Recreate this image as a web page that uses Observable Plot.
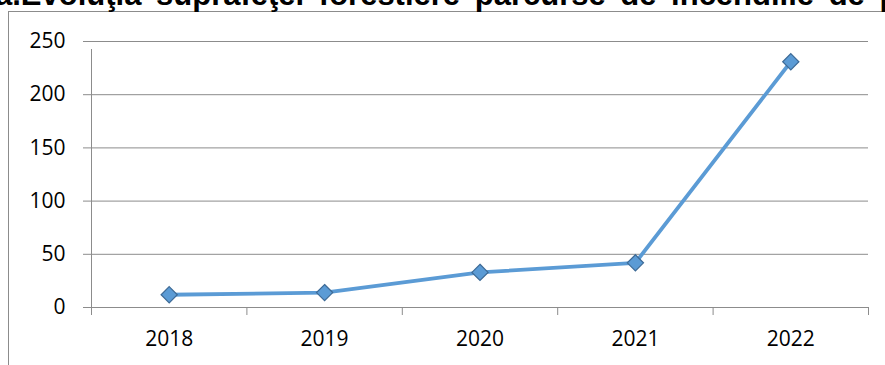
<!DOCTYPE html>
<html>
<head>
<meta charset="utf-8">
<script src="https://cdn.jsdelivr.net/npm/d3@7"></script>
<script src="https://cdn.jsdelivr.net/npm/@observablehq/plot@0.6"></script>
<style>
  html, body { margin: 0; padding: 0; background: #fff; overflow: hidden; }
  #wrap { position: relative; width: 885px; height: 365px; overflow: hidden; }
  #frame { position: absolute; left: 8px; top: 11px; width: 920px; height: 420px; border: 1px solid #8c8c8c; box-sizing: border-box; }
  #title { position: absolute; left: -5px; top: -21.3px; font-family: "Liberation Sans", Arial, sans-serif; font-weight: bold; font-size: 31px; line-height: 31px; white-space: nowrap; color: #000; word-spacing: 6px; }
  #chart { position: absolute; left: 0; top: 0; }
</style>
</head>
<body>
<div id="wrap">
  <div id="frame"></div>
  <div id="chart"></div>
  <div id="title"></div>
</div>
<script>
const titleText = "a.Evoluţia suprafeţei forestiere parcurse de incendiile de pădure";
const years = [2018, 2019, 2020, 2021, 2022];
const values = [12, 14, 33, 42, 231];
const yTicks = [0, 50, 100, 150, 200, 250];

document.getElementById("title").textContent = titleText;

const data = years.map((y, i) => ({year: y, value: values[i]}));
const boundaries = years.map(y => y - 0.5).concat([years[years.length - 1] + 0.5]);

const chart = Plot.plot({
  width: 885,
  height: 365,
  marginLeft: 91,
  marginRight: 17,
  marginTop: 41,
  marginBottom: 58,
  style: {fontFamily: "'Open Sans', sans-serif", fontSize: "21px", color: "#000", background: "transparent"},
  x: {type: "linear", domain: [years[0] - 0.5, years[years.length - 1] + 0.5]},
  y: {domain: [0, 250]},
  marks: [
    Plot.gridY(yTicks, {stroke: "#8c8c8c", strokeOpacity: 1, strokeWidth: 1}),
    Plot.axisY({ticks: yTicks, tickSize: 8, tickPadding: 18, stroke: "#8c8c8c", label: null, fill: "#000"}),
    Plot.ruleX([years[0] - 0.5], {y1: 0, y2: 250, stroke: "#8c8c8c", insetBottom: -8}),
    Plot.ruleY([0], {stroke: "#8c8c8c"}),
    Plot.axisX({ticks: boundaries, tickSize: 8, tickFormat: () => "", stroke: "#8c8c8c", label: null}),
    Plot.axisX({ticks: years, tickSize: 0, tickPadding: 24, tickFormat: d => String(d), label: null, fill: "#000"}),
    Plot.line(data, {x: "year", y: "value", stroke: "#5B9BD5", strokeWidth: 3.8}),
    Plot.dot(data, {x: "year", y: "value", symbol: "diamond2", r: 7.3, fill: "#5B9BD5", stroke: "#3D6A96", strokeWidth: 1.2})
  ]
});
document.getElementById("chart").appendChild(chart);
</script>
</body>
</html>
